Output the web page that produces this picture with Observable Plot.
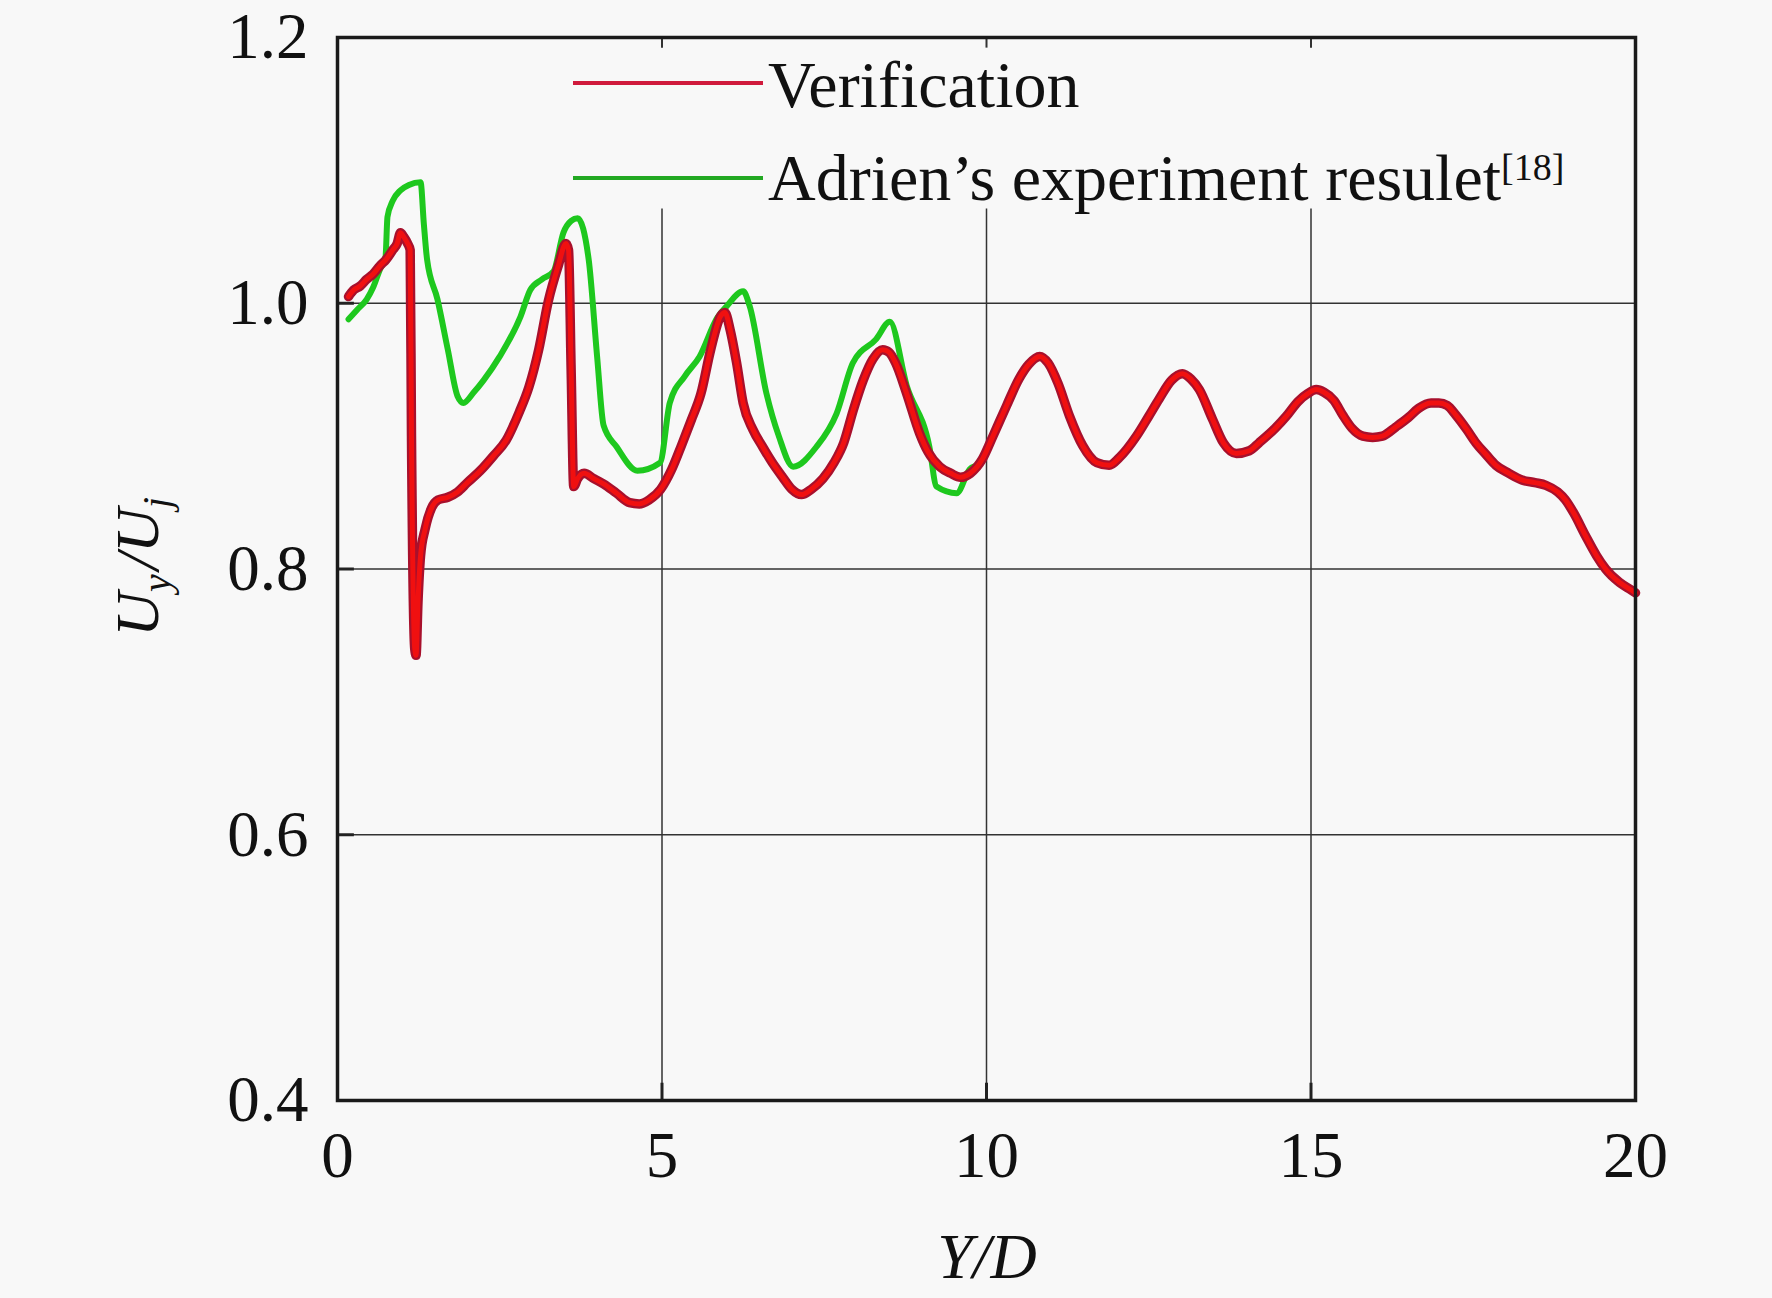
<!DOCTYPE html>
<html>
<head>
<meta charset="utf-8">
<script src="https://cdn.jsdelivr.net/npm/d3@7"></script>
<script src="https://cdn.jsdelivr.net/npm/@observablehq/plot@0.6"></script>
<style>
  html, body { margin: 0; padding: 0; background: #f8f8f8; }
  #chart svg { display: block; }
</style>
</head>
<body>
<div id="chart"></div>
<script>
// ---- Data ----
const verificationX = [0.17,0.25,0.35,0.45,0.55,0.65,0.75,0.85,0.92,0.97,1.02,1.08,1.12,1.14,1.19,1.21,1.24,1.28,1.35,1.45,1.55,1.7,1.85,2.0,2.2,2.4,2.6,2.8,2.95,3.1,3.25,3.4,3.52,3.56,3.6,3.64,3.7,3.8,3.95,4.1,4.3,4.5,4.65,4.8,4.98,5.15,5.3,5.45,5.6,5.75,5.9,5.97,6.05,6.15,6.25,6.4,6.55,6.7,6.86,7.0,7.15,7.3,7.48,7.65,7.8,7.95,8.1,8.25,8.4,8.5,8.6,8.77,8.97,9.1,9.28,9.45,9.6,9.75,9.94,10.1,10.31,10.5,10.65,10.82,10.95,11.1,11.28,11.48,11.7,11.89,12.05,12.31,12.5,12.66,12.85,13.02,13.15,13.28,13.48,13.65,13.85,14.05,14.2,14.45,14.62,14.8,14.95,15.08,15.2,15.35,15.5,15.63,15.8,15.95,16.1,16.31,16.5,16.66,16.85,16.97,17.1,17.23,17.4,17.54,17.7,17.85,18.05,18.25,18.45,18.62,18.8,18.92,19.05,19.23,19.4,19.54,19.75,19.94,20.0];
const verificationY = [1.005,1.010,1.013,1.018,1.022,1.028,1.033,1.040,1.045,1.053,1.050,1.045,1.040,0.900,0.740,0.735,0.775,0.810,0.830,0.846,0.852,0.854,0.858,0.865,0.874,0.885,0.897,0.918,0.937,0.965,1.002,1.028,1.045,1.040,0.950,0.862,0.868,0.872,0.868,0.864,0.857,0.850,0.849,0.852,0.860,0.875,0.893,0.912,0.932,0.965,0.990,0.993,0.980,0.955,0.925,0.905,0.892,0.880,0.869,0.860,0.856,0.860,0.868,0.880,0.895,0.920,0.942,0.958,0.965,0.963,0.955,0.932,0.902,0.888,0.877,0.872,0.869,0.872,0.883,0.900,0.923,0.943,0.954,0.960,0.955,0.940,0.915,0.893,0.880,0.878,0.884,0.900,0.915,0.928,0.942,0.947,0.943,0.935,0.913,0.895,0.887,0.889,0.895,0.906,0.915,0.926,0.932,0.935,0.933,0.927,0.915,0.906,0.900,0.899,0.900,0.907,0.914,0.921,0.925,0.925,0.923,0.916,0.905,0.895,0.886,0.878,0.872,0.867,0.865,0.863,0.858,0.852,0.842,0.825,0.810,0.800,0.790,0.784,0.782];

const experimentX = [0.17,0.3,0.45,0.55,0.65,0.74,0.77,0.85,0.97,1.1,1.28,1.33,1.38,1.54,1.7,1.85,1.94,2.1,2.25,2.5,2.82,2.97,3.15,3.33,3.48,3.6,3.7,3.87,4.0,4.1,4.3,4.62,4.97,5.12,5.35,5.58,5.85,6.0,6.25,6.35,6.61,6.8,7.02,7.38,7.69,7.94,8.3,8.51,8.77,9.12,9.23,9.54,9.74,9.85];
const experimentY = [0.988,0.995,1.003,1.012,1.025,1.035,1.065,1.077,1.085,1.089,1.091,1.060,1.033,1.003,0.965,0.930,0.925,0.933,0.942,0.960,0.990,1.010,1.018,1.024,1.053,1.062,1.064,1.033,0.960,0.908,0.892,0.874,0.880,0.925,0.945,0.960,0.989,0.998,1.009,0.998,0.932,0.900,0.877,0.892,0.917,0.955,0.973,0.986,0.938,0.892,0.862,0.857,0.875,0.878];

const xTicks = [0, 5, 10, 15, 20];
const yTicks = [0.4, 0.6, 0.8, 1.0, 1.2];
const xGrid = [5, 10, 15];
const yGrid = [0.6, 0.8, 1.0];
const seriesNames = ["Verification", "Adrien\u2019s experiment resulet"];

const verification = verificationX.map((x, i) => ({x, y: verificationY[i]}));
const experiment = experimentX.map((x, i) => ({x, y: experimentY[i]}));

const W = 1772, H = 1298;
const mL = 337, mR = 137, mT = 37, mB = 198;
const FONT = "'Liberation Serif', 'Times New Roman', serif";

const plot = Plot.plot({
  width: W,
  height: H,
  marginLeft: mL, marginRight: mR, marginTop: mT, marginBottom: mB,
  style: {background: "transparent", fontFamily: FONT, fontSize: "65px", color: "#111"},
  x: {domain: [0, 20], ticks: xTicks},
  y: {domain: [0.4, 1.2], ticks: yTicks},
  marks: [
    // grid
    Plot.ruleY(yGrid, {stroke: "#333", strokeWidth: 1.5}),
    Plot.ruleX(xGrid, {y1: 0.4, y2: 1.071, stroke: "#333", strokeWidth: 1.5}),
    Plot.ruleX(xGrid, {y1: 1.2, y2: 1.192, stroke: "#333", strokeWidth: 2}),
    // inward ticks
    Plot.ruleX(xGrid, {y1: 0.4, y2: 0.413, stroke: "#222", strokeWidth: 3}),
    Plot.ruleY(yGrid, {x1: 0, x2: 0.26, stroke: "#222", strokeWidth: 3}),
    // curves
    Plot.line(experiment, {x: "x", y: "y", stroke: "#1ec81e", strokeWidth: 6, curve: "monotone-x"}),
    Plot.line(verification, {x: "x", y: "y", stroke: "#a8102c", strokeWidth: 9.5, curve: "monotone-x"}),
    Plot.line(verification, {x: "x", y: "y", stroke: "#f01010", strokeWidth: 5, curve: "monotone-x"}),
    Plot.frame({stroke: "#1a1a1a", strokeWidth: 3.5}),
    Plot.axisX({ticks: xTicks, tickSize: 0, tickPadding: 30, label: null, fontSize: 65, tickFormat: d => String(d)}),
    Plot.axisY({ticks: yTicks, tickSize: 0, tickPadding: 29, label: null, fontSize: 65, tickFormat: d3.format(".1f")})
  ]
});

document.getElementById("chart").appendChild(plot);

const svg = d3.select(plot);
const g = svg.append("g").attr("font-family", FONT).attr("fill", "#111");

// x-axis title: Y/D
g.append("text")
  .attr("x", 987).attr("y", 1278)
  .attr("text-anchor", "middle")
  .attr("font-size", 64)
  .attr("font-style", "italic")
  .text("Y/D");

// y-axis title: U_y / U_j
const yl = g.append("text")
  .attr("transform", "translate(158,567) rotate(-90)")
  .attr("text-anchor", "middle")
  .attr("font-size", 62)
  .attr("font-style", "italic");
yl.append("tspan").text("U");
yl.append("tspan").attr("font-size", 40).attr("dy", 12).text("y");
yl.append("tspan").attr("dy", -12).attr("dx", 4).text("/U");
yl.append("tspan").attr("font-size", 40).attr("dy", 12).text("j");

// legend
const legendColors = ["#d01a3c", "#22a822"];
const legendY = [83, 178];
const legendBase = [107, 200];
seriesNames.forEach((name, i) => {
  g.append("line")
    .attr("x1", 573).attr("x2", 763)
    .attr("y1", legendY[i]).attr("y2", legendY[i])
    .attr("stroke", legendColors[i]).attr("stroke-width", 4);
  const t = g.append("text")
    .attr("x", 768).attr("y", legendBase[i])
    .attr("text-anchor", "start")
    .attr("font-size", 66)
    .text(name);
  if (i === 1) {
    t.append("tspan").attr("font-size", 38).attr("dy", -20).text("[18]");
  }
});
</script>
</body>
</html>
